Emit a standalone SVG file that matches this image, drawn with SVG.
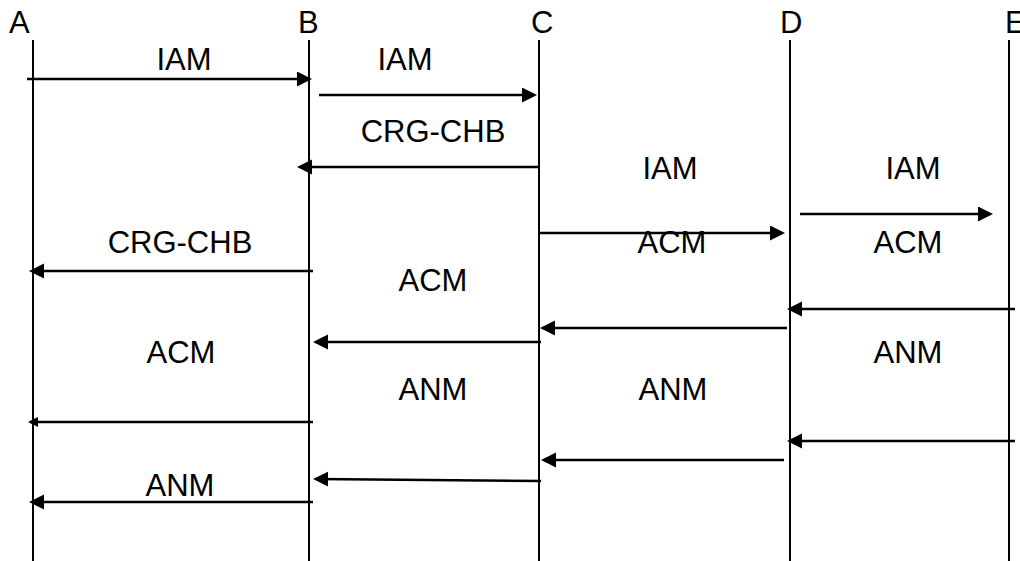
<svg xmlns="http://www.w3.org/2000/svg" width="1020" height="561" viewBox="0 0 1020 561">
  <style>
    .bg { fill: #ffffff; }
    .life { stroke: #000000; stroke-width: 2; fill: none; }
    .msg { stroke: #000000; stroke-width: 2.6; fill: none; marker-end: url(#head); }
    .msg.small { marker-end: url(#headSmall); }
    .name { font-family: "Liberation Sans", Arial, sans-serif; font-size: 31px; fill: #000000; }
    .lbl { font-family: "Liberation Sans", Arial, sans-serif; font-size: 31px; fill: #000000; text-anchor: middle; }
  </style>
  <defs>
    <marker id="head" markerUnits="userSpaceOnUse" markerWidth="16" markerHeight="16" refX="12" refY="7.5" orient="auto">
      <path d="M0,0 L15,7.5 L0,15 z" fill="#000000"/>
    </marker>
    <marker id="headSmall" markerUnits="userSpaceOnUse" markerWidth="11" markerHeight="11" refX="8" refY="5" orient="auto">
      <path d="M0,0 L10,5 L0,10 z" fill="#000000"/>
    </marker>
  </defs>

  <rect class="bg" x="0" y="0" width="1020" height="561"/>

  <!-- participants: name and lifeline -->
  <g id="node-A">
    <text class="name" x="9" y="33">A</text>
    <line class="life" x1="33" y1="40" x2="33" y2="561"/>
  </g>
  <g id="node-B">
    <text class="name" x="298" y="33">B</text>
    <line class="life" x1="309" y1="40" x2="309" y2="561"/>
  </g>
  <g id="node-C">
    <text class="name" x="531" y="33">C</text>
    <line class="life" x1="539" y1="40" x2="539" y2="561"/>
  </g>
  <g id="node-D">
    <text class="name" x="780" y="33">D</text>
    <line class="life" x1="790" y1="40" x2="790" y2="561"/>
  </g>
  <g id="node-E">
    <text class="name" x="1005" y="33">E</text>
    <line class="life" x1="1009" y1="40" x2="1009" y2="561"/>
  </g>

  <!-- messages -->
  <g id="connectors">
    <line class="msg" x1="27" y1="79" x2="309" y2="79"/>
    <line class="msg" x1="319" y1="95" x2="534" y2="95"/>
    <line class="msg" x1="540" y1="167" x2="300" y2="167"/>
    <line class="msg" x1="539" y1="233" x2="782" y2="233"/>
    <line class="msg" x1="800" y1="214" x2="990" y2="214"/>
    <line class="msg" x1="313" y1="271" x2="32" y2="271"/>
    <line class="msg" x1="1015" y1="309" x2="790" y2="309"/>
    <line class="msg" x1="787" y1="328" x2="543" y2="328"/>
    <line class="msg" x1="541" y1="342" x2="316" y2="342"/>
    <line class="msg small" x1="313" y1="422" x2="30" y2="422"/>
    <line class="msg" x1="1015" y1="441" x2="790" y2="441"/>
    <line class="msg" x1="784" y1="460" x2="544" y2="460"/>
    <line class="msg" x1="541" y1="481" x2="316" y2="479"/>
    <line class="msg" x1="313" y1="502" x2="32" y2="502"/>
  </g>

  <!-- message labels -->
  <g id="labels">
    <text class="lbl" x="184" y="70">IAM</text>
    <text class="lbl" x="405" y="70">IAM</text>
    <text class="lbl" x="433" y="142">CRG-CHB</text>
    <text class="lbl" x="670" y="179">IAM</text>
    <text class="lbl" x="913" y="179">IAM</text>
    <text class="lbl" x="672" y="253">ACM</text>
    <text class="lbl" x="908" y="253">ACM</text>
    <text class="lbl" x="180" y="253">CRG-CHB</text>
    <text class="lbl" x="433" y="291">ACM</text>
    <text class="lbl" x="181" y="363">ACM</text>
    <text class="lbl" x="908" y="363">ANM</text>
    <text class="lbl" x="433" y="400">ANM</text>
    <text class="lbl" x="673" y="400">ANM</text>
    <text class="lbl" x="180" y="496">ANM</text>
  </g>
</svg>
